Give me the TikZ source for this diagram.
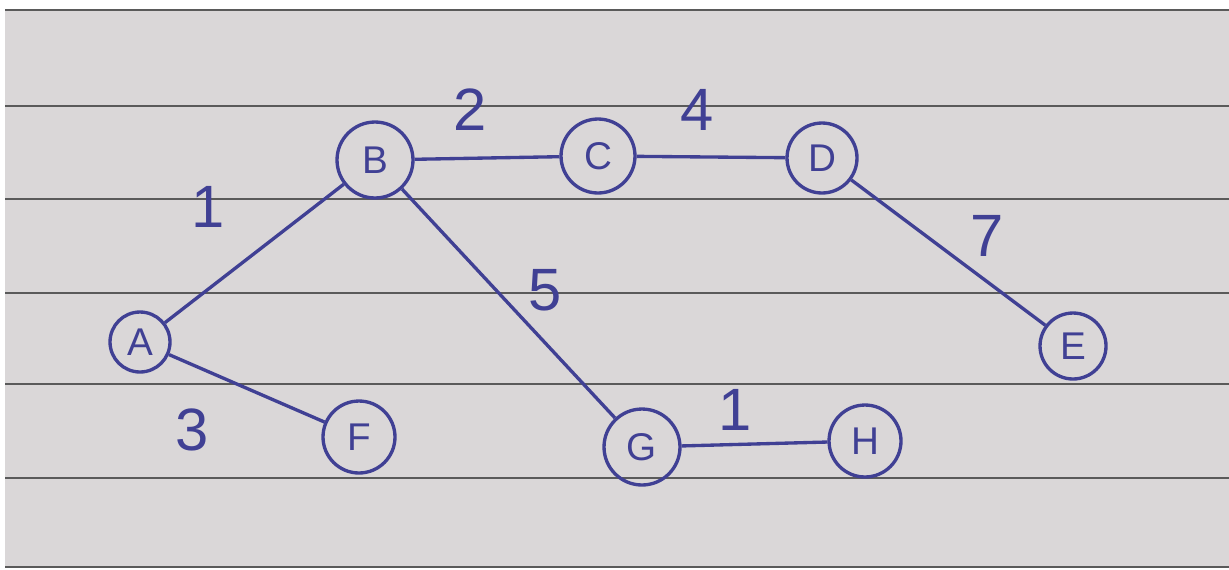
\documentclass[tikz,border=0pt]{standalone}
\usepackage{fontspec}
\setsansfont{Liberation Sans}
\definecolor{ink}{RGB}{64,64,148}
\definecolor{paper}{RGB}{218,215,216}
\definecolor{ruling}{RGB}{90,90,90}

\begin{document}
\begin{tikzpicture}[x=0.02cm, y=-0.02cm,
    vertex/.style={circle, draw=ink, line width=1.9pt, inner sep=0pt, text=ink,
      font=\sffamily\fontsize{22}{24}\selectfont},
    edge/.style={draw=ink, line width=1.9pt},
    weight/.style={text=ink, font=\sffamily\fontsize{34}{36}\selectfont}]
  \useasboundingbox (0,0) rectangle (1229,569);
  \fill[white] (0,0) rectangle (1229,569);
  \fill[paper] (5,10) rectangle (1229,567);
  \foreach \y in {10,106,199,293,384,478,567}
    \draw[ruling, line width=1.1pt] (5,\y) -- (1229,\y);

  \node[vertex, minimum size=1.2cm] (a) at (140,342) {A};
  \node[vertex, minimum size=1.52cm] (b) at (375,160) {B};
  \node[vertex, minimum size=1.48cm] (c) at (598,156) {C};
  \node[vertex, minimum size=1.4cm] (d) at (822,158) {D};
  \node[vertex, minimum size=1.32cm] (e) at (1073,346) {E};
  \node[vertex, minimum size=1.44cm] (f) at (359,437) {F};
  \node[vertex, minimum size=1.52cm] (g) at (642,447) {G};
  \node[vertex, minimum size=1.44cm] (h) at (865,441) {H};

  \draw[edge] (a) -- (b);
  \draw[edge] (b) -- (c);
  \draw[edge] (c) -- (d);
  \draw[edge] (d) -- (e);
  \draw[edge] (a) -- (f);
  \draw[edge] (b) -- (g);
  \draw[edge] (g) -- (h);

  \node[weight] (wab) at (208,207) {1};
  \node[weight] (wbc) at (470,110) {2};
  \node[weight] (wcd) at (697,110) {4};
  \node[weight] (wde) at (987,236) {7};
  \node[weight] (waf) at (192,430) {3};
  \node[weight] (wbg) at (545,290) {5};
  \node[weight] (wgh) at (735,410) {1};
\end{tikzpicture}
\end{document}
